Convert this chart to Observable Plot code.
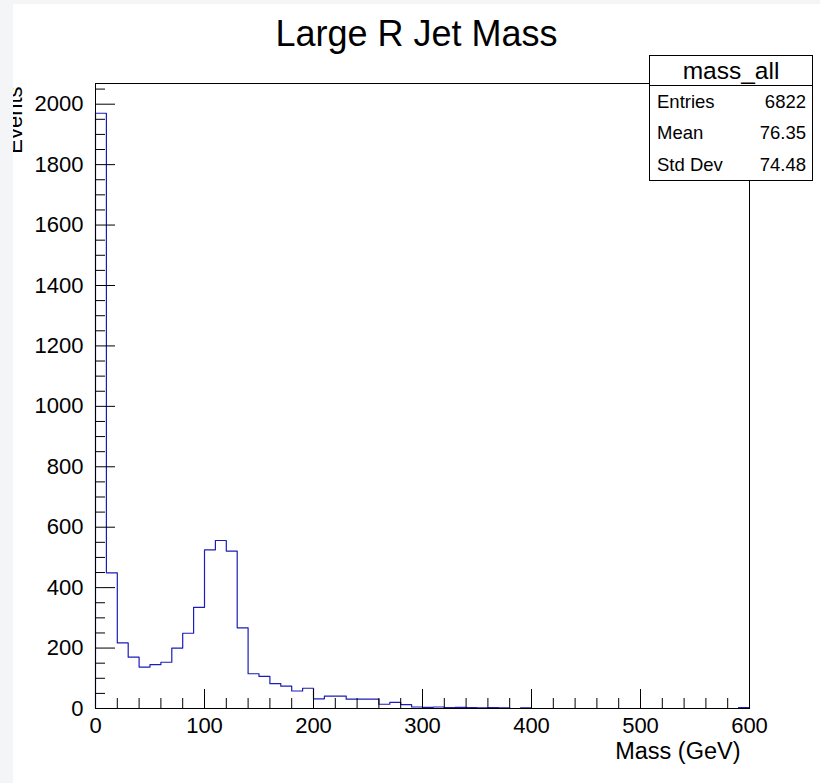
<!DOCTYPE html>
<html>
<head>
<meta charset="utf-8">
<script src="https://cdn.jsdelivr.net/npm/d3@7"></script>
<script src="https://cdn.jsdelivr.net/npm/@observablehq/plot@0.6"></script>
<style>
  html, body { margin: 0; padding: 0; background: #f4f5f7; }
  #wrap { position: absolute; left: 13px; top: 4px; width: 807px; height: 779px; background: #fff; overflow: hidden; }
  #chart { position: absolute; left: 0; top: 0; }
  #stats {
    position: absolute; left: 636px; top: 51px; width: 164px; height: 126px;
    box-sizing: border-box; border: 1px solid #000; background: #fff;
    font-family: "Liberation Sans", Arial, sans-serif; color: #000;
  }
  #stats .head { height: 29px; line-height: 29px; text-align: center; font-size: 24.5px; border-bottom: 1px solid #000; }
  #stats .row { height: 31.5px; display: flex; justify-content: space-between; align-items: center; padding: 0 6px 0 7px; font-size: 18.5px; }
</style>
</head>
<body>
<div id="wrap">
  <div id="chart"></div>
  <div id="stats"></div>
</div>
<script>
// ---- data ----
const title = "Large R Jet Mass";
const xTitle = "Mass (GeV)";
const yTitle = "Events";
const binLow = [0, 10, 20, 30, 40, 50, 60, 70, 80, 90,
  100, 110, 120, 130, 140, 150, 160, 170, 180, 190,
  200, 210, 220, 230, 240, 250, 260, 270, 280, 290,
  300, 310, 320, 330, 340, 350, 360, 370, 380, 390,
  400, 410, 420, 430, 440, 450, 460, 470, 480, 490,
  500, 510, 520, 530, 540, 550, 560, 570, 580, 590];
const binHigh = 600;
const counts = [1970, 449, 217, 170, 137, 145, 153, 200, 249, 335,
  525, 556, 521, 267, 115, 106, 82, 74, 58, 67,
  32, 41, 41, 31, 31, 31, 14, 20, 13, 5,
  4, 5, 3, 4, 3, 2, 3, 2, 0, 2,
  0, 0, 0, 0, 0, 0, 0, 0, 0, 0,
  0, 0, 0, 0, 0, 0, 0, 0, 0, 3];
const xMajor = [0, 100, 200, 300, 400, 500, 600];
const yMajor = [0, 200, 400, 600, 800, 1000, 1200, 1400, 1600, 1800, 2000];
const statsName = "mass_all";
const statsLabels = ["Entries", "Mean", "Std Dev"];
const statsValues = ["6822", "76.35", "74.48"];

// ---- build ----
const stepData = [{x: binLow[0], y: 0}];
binLow.forEach((lo, i) => stepData.push({x: lo, y: counts[i]}));
stepData.push({x: binHigh, y: counts[counts.length - 1]});
stepData.push({x: binHigh, y: 0});

const yMax = d3.max(counts) * 1.05;
const xMinor = d3.range(0, binHigh + 1, 20).filter(v => !xMajor.includes(v));
const yMinor = d3.range(0, yMax, 50).filter(v => !yMajor.includes(v));
const font = "'Liberation Sans', Arial, sans-serif";

const W = 807, H = 779, mL = 82, mR = 71, mT = 79, mB = 75;
const fw = W - mL - mR, fh = H - mT - mB;

const plot = Plot.plot({
  width: W, height: H,
  marginLeft: mL, marginRight: mR, marginTop: mT, marginBottom: mB,
  x: {domain: [0, binHigh], axis: null},
  y: {domain: [0, yMax], axis: null},
  style: {fontFamily: font, color: "#000", background: "transparent", overflow: "hidden"},
  marks: [
    Plot.line(stepData, {x: "x", y: "y", curve: "step-after", stroke: "#1c1cb8", strokeWidth: 1.2}),
    Plot.frame({stroke: "#000"}),
    Plot.tickY(yMinor, {y: d => d, stroke: "#000", insetRight: fw - 10}),
    Plot.tickY(yMajor, {y: d => d, stroke: "#000", insetRight: fw - 20}),
    Plot.text(yMajor, {y: d => d, text: d => String(d), frameAnchor: "left", textAnchor: "end", dx: -12, fontSize: 22}),
    Plot.tickX(xMinor, {x: d => d, stroke: "#000", insetTop: fh - 10}),
    Plot.tickX(xMajor, {x: d => d, stroke: "#000", insetTop: fh - 19}),
    Plot.text(xMajor, {x: d => d, text: d => String(d), frameAnchor: "bottom", lineAnchor: "top", dy: 9, fontSize: 22}),
    Plot.text([yTitle], {frameAnchor: "top-left", rotate: -90, textAnchor: "end", lineAnchor: "bottom", dx: -73.5, dy: 3, fontSize: 22}),
    Plot.text([xTitle], {frameAnchor: "bottom-right", textAnchor: "end", lineAnchor: "top", dx: -9, dy: 34, fontSize: 23.5}),
    Plot.text([title], {frameAnchor: "top", lineAnchor: "bottom", dx: -6, dy: -38, fontSize: 36})
  ]
});
document.getElementById("chart").appendChild(plot);

const stats = document.getElementById("stats");
const head = document.createElement("div");
head.className = "head";
head.textContent = statsName;
stats.appendChild(head);
statsLabels.forEach((lab, i) => {
  const row = document.createElement("div");
  row.className = "row";
  const a = document.createElement("span"); a.textContent = lab;
  const b = document.createElement("span"); b.textContent = statsValues[i];
  row.appendChild(a); row.appendChild(b);
  stats.appendChild(row);
});
</script>
</body>
</html>
